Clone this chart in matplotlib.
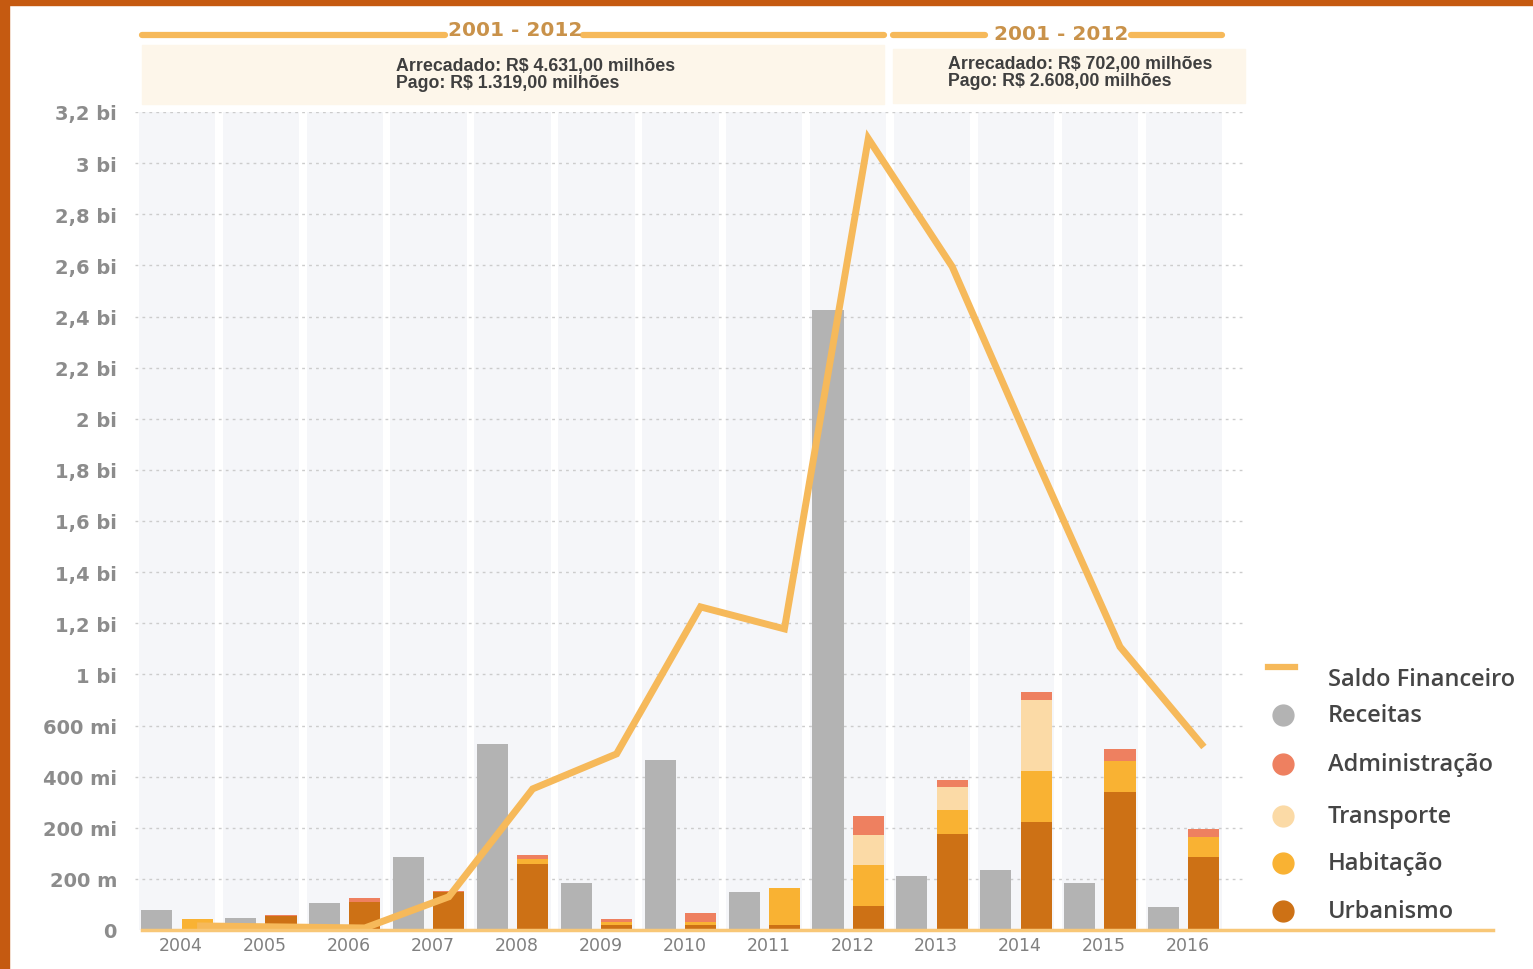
import numpy as np
import matplotlib.pyplot as plt
from matplotlib.lines import Line2D
from matplotlib.patches import Rectangle

# Data (values in "bi" units, as on the y axis)
years = ['2004', '2005', '2006', '2007', '2008', '2009', '2010',
         '2011', '2012', '2013', '2014', '2015', '2016']
receitas = [0.078, 0.047, 0.106, 0.286, 0.728, 0.184, 0.665,
            0.149, 2.427, 0.211, 0.235, 0.184, 0.090]
urbanismo = [0.0, 0.055, 0.110, 0.148, 0.258, 0.018, 0.020,
             0.018, 0.095, 0.376, 0.424, 0.541, 0.287]
habitacao = [0.042, 0.0, 0.0, 0.0, 0.020, 0.015, 0.012,
             0.145, 0.159, 0.094, 0.197, 0.121, 0.076]
transporte = [0.0, 0.0, 0.0, 0.0, 0.0, 0.0, 0.0,
              0.0, 0.117, 0.089, 0.280, 0.0, 0.0]
administracao = [0.0, 0.005, 0.015, 0.005, 0.016, 0.010, 0.033,
                 0.003, 0.076, 0.026, 0.029, 0.046, 0.033]
saldo = [0.016, 0.012, 0.008, 0.130, 0.552, 0.689, 1.264,
         1.178, 3.096, 2.595, 1.843, 1.108, 0.716]

ytick_vals = [0, 0.2, 0.4, 0.6, 0.8, 1.0, 1.2, 1.4, 1.6, 1.8,
              2.0, 2.2, 2.4, 2.6, 2.8, 3.0, 3.2]
ytick_labels = ['0', '200 m', '200 mi', '400 mi', '600 mi', '1 bi', '1,2 bi',
                '1,4 bi', '1,6 bi', '1,8 bi', '2 bi', '2,2 bi', '2,4 bi',
                '2,6 bi', '2,8 bi', '3 bi', '3,2 bi']

# Colours
C_GREY = '#b3b3b3'
C_URB = '#cd7115'
C_HAB = '#f9b233'
C_TRA = '#fbdaa6'
C_ADM = '#ee8060'
C_LINE = '#f6b95a'
C_BAND = '#f5f6f9'

W, H = 1533, 970
fig = plt.figure(figsize=(W / 100, H / 100), dpi=100)
fig.patch.set_facecolor('white')


def fx(px):
    return px / W


def fy(py):
    return 1 - py / H


# orange frame (top and left)
fig.add_artist(Rectangle((0, fy(6)), 1, 6 / H, transform=fig.transFigure,
                         color='#c55a11', zorder=0))
fig.add_artist(Rectangle((0, 0), 9 / W, 1, transform=fig.transFigure,
                         color='#c55a11', zorder=0))

ax = fig.add_axes([fx(135), fy(931), (1245 - 135) / W, (931 - 113) / H])
ax.set_facecolor('white')
x = np.arange(len(years))

# background columns
for i in x:
    ax.axvspan(i - 0.455, i + 0.455, color=C_BAND, zorder=0, lw=0)

# dotted grid
for v in ytick_vals[1:]:
    ax.axhline(v, color='#cccccc', lw=1.0, ls=(0, (2, 3)), zorder=1)

off, bw = 0.24, 0.37
ax.bar(x - off, receitas, bw, color=C_GREY, zorder=2)
bottom = np.zeros(len(years))
for vals, col in [(urbanismo, C_URB), (habitacao, C_HAB),
                  (transporte, C_TRA), (administracao, C_ADM)]:
    ax.bar(x + off, vals, bw, bottom=bottom, color=col, zorder=2)
    bottom += np.array(vals)

ax.plot(x + off, saldo, color=C_LINE, lw=5, zorder=4,
        solid_joinstyle='miter', solid_capstyle='butt')

ax.set_xlim(-0.5, 12.73)
ax.set_ylim(0, 3.2)
ax.set_xticks(x + 0.05)
ax.set_xticklabels(years)
ax.set_yticks(ytick_vals)
ax.set_yticklabels(ytick_labels)
ax.tick_params(axis='x', length=0, pad=4, labelsize=12.5, labelcolor='#808080')
ax.tick_params(axis='y', length=0, pad=13, labelsize=14, labelcolor='#8c8c8c')
for lab in ax.get_yticklabels():
    lab.set_fontweight('bold')
for s in ax.spines.values():
    s.set_visible(False)

# baseline running under the legend too
fig.add_artist(Line2D([fx(142), fx(1493)], [fy(931), fy(931)],
                      transform=fig.transFigure, color='#f8c777', lw=2.5,
                      zorder=5))

# header blocks
C_HEAD = '#c9924a'
fig.add_artist(Rectangle((fx(142), fy(105)), (884 - 142) / W, 59 / H,
                         transform=fig.transFigure, color='#fdf6ea', zorder=1))
fig.add_artist(Rectangle((fx(893), fy(104)), (1245 - 893) / W, 54 / H,
                         transform=fig.transFigure, color='#fdf6ea', zorder=1))
for x0, x1 in [(142, 445), (583, 884), (893, 985), (1131, 1222)]:
    fig.add_artist(Line2D([fx(x0), fx(x1)], [fy(36), fy(36)],
                          transform=fig.transFigure, color=C_LINE, lw=4.5,
                          solid_capstyle='round'))
fig.text(fx(515), fy(31), '2001 - 2012', ha='center', va='center',
         fontsize=14.5, fontweight='bold', color=C_HEAD)
fig.text(fx(1061), fy(34), '2001 - 2012', ha='center', va='center',
         fontsize=14.5, fontweight='bold', color=C_HEAD)

head_font = dict(fontsize=12.8, fontweight='bold', color='#3f3f3f',
                 family='Liberation Sans', ha='left', va='center')
fig.text(fx(396), fy(67), 'Arrecadado: R$ 4.631,00 milhões', **head_font)
fig.text(fx(396), fy(84), 'Pago: R$ 1.319,00 milhões', **head_font)
fig.text(fx(948), fy(65), 'Arrecadado: R$ 702,00 milhões', **head_font)
fig.text(fx(948), fy(82), 'Pago: R$ 2.608,00 milhões', **head_font)

# legend
leg_items = [('Saldo Financeiro', None, 680),
             ('Receitas', C_GREY, 716),
             ('Administração', C_ADM, 765),
             ('Transporte', C_TRA, 817),
             ('Habitação', C_HAB, 864),
             ('Urbanismo', C_URB, 912)]
for label, col, py in leg_items:
    if col is None:
        fig.add_artist(Line2D([fx(1268), fx(1295)], [fy(668), fy(668)],
                              transform=fig.transFigure, color=C_LINE, lw=4.5))
    else:
        fig.add_artist(Line2D([fx(1283)], [fy(py)], transform=fig.transFigure,
                              marker='o', markersize=15, color=col, lw=0))
    fig.text(fx(1328), fy(py), label, ha='left', va='center',
             fontsize=17, fontweight='semibold', family='Open Sans',
             color='#454545')

fig.savefig('out.png', dpi=100)
